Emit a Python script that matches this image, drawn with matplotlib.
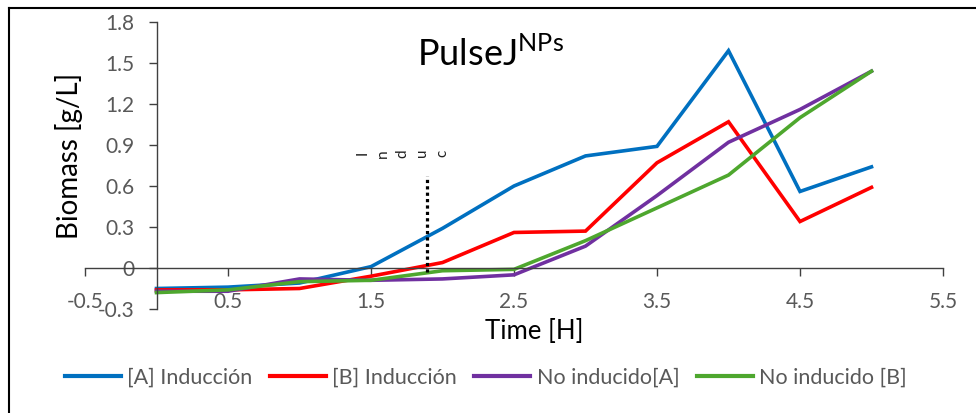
import matplotlib
matplotlib.use("Agg")
import matplotlib.pyplot as plt
from matplotlib.lines import Line2D

plt.rcParams['font.family'] = ['Lato', 'DejaVu Sans']

# time points (h) and biomass readings (g/L)
time_h = [0, 0.5, 1, 1.5, 2, 2.5, 3, 3.5, 4, 4.5, 5]
ind_a = [-0.15, -0.14, -0.11, 0.01, 0.29, 0.60, 0.82, 0.89, 1.59, 0.56, 0.74]
ind_b = [-0.16, -0.16, -0.15, -0.06, 0.04, 0.26, 0.27, 0.77, 1.07, 0.34, 0.59]
no_ind_a = [-0.17, -0.17, -0.08, -0.09, -0.08, -0.05, 0.16, 0.53, 0.92, 1.16, 1.44]
no_ind_b = [-0.18, -0.16, -0.10, -0.09, -0.02, -0.01, 0.20, 0.44, 0.68, 1.10, 1.44]

series_names = ['[A] Inducción', '[B] Inducción', 'No inducido[A]', 'No inducido [B]']
series_colors = ['#0070C0', '#FF0000', '#7030A0', '#4EA72E']

induction_time = 1.89
induction_top = 0.67

xticks = [-0.5, 0.5, 1.5, 2.5, 3.5, 4.5, 5.5]
yticks = [-0.3, 0, 0.3, 0.6, 0.9, 1.2, 1.5, 1.8]

fig = plt.figure(figsize=(9.76, 4.13), dpi=100)
ax = fig.add_axes([85 / 976, 104 / 413, 858 / 976, 287 / 413])

for vals, name, col in zip([ind_a, ind_b, no_ind_a, no_ind_b], series_names, series_colors):
    ax.plot(time_h, vals, color=col, lw=2.6, label=name, solid_joinstyle='miter')

# induction marker, label squeezed into a narrow box so letters sit side by side
ax.plot([induction_time, induction_time], [-0.03, induction_top], color='black',
        lw=2.3, linestyle=(0, (1, 1)))
for i, ch in enumerate('Induc'):
    ax.text(1.44 + i * 0.14, 0.84, ch, rotation=90, rotation_mode='anchor',
            fontsize=11, ha='center', va='center', color='#222222')

ax.set_xlim(-0.5, 5.5)
ax.set_ylim(-0.3, 1.8)
ax.set_xticks(xticks)
ax.set_yticks(yticks)
ax.set_xticklabels([f'{v:g}' for v in xticks])
ax.set_yticklabels([f'{v:g}' for v in yticks])

for s in ['top', 'right']:
    ax.spines[s].set_visible(False)
ax.spines['left'].set_position(('data', 0))
ax.spines['bottom'].set_position(('data', 0))
for s in ['left', 'bottom']:
    ax.spines[s].set_color('#404040')
    ax.spines[s].set_linewidth(1.0)

ax.tick_params(axis='x', direction='out', length=6, width=1, color='#404040',
               labelsize=15, labelcolor='#595959', pad=11.5)
ax.tick_params(axis='y', direction='out', length=6, width=1, color='#404040',
               labelsize=15, labelcolor='#595959', pad=10)

ax.set_xlabel('Time [H]', fontsize=18.5, color='black')
ax.set_ylabel('Biomass [g/L]', fontsize=20, color='black')
ax.yaxis.set_label_coords(-0.002, 0.533)
ax.xaxis.set_label_coords(0.524, -0.035)

fig.text(417 / 976, (413 - 66) / 413, 'PulseJ$^{\\mathregular{NPs}}$', fontsize=26,
         ha='left', va='baseline')

leg = fig.legend(loc='center', bbox_to_anchor=(486 / 976, 35 / 413), ncol=4,
                 frameon=False, fontsize=15.5, handlelength=2.6, handletextpad=0.3,
                 columnspacing=0.8)
for t in leg.get_texts():
    t.set_color('#595959')
for h in leg.get_lines():
    h.set_linewidth(3)

# outer frame edges
fig.add_artist(Line2D([0.009, 1], [1 - 8 / 413, 1 - 8 / 413], color='black', lw=1.5,
                      transform=fig.transFigure))
fig.add_artist(Line2D([9 / 976, 9 / 976], [0, 1 - 8 / 413], color='black', lw=1.5,
                      transform=fig.transFigure))

fig.savefig('out.png', dpi=100)
